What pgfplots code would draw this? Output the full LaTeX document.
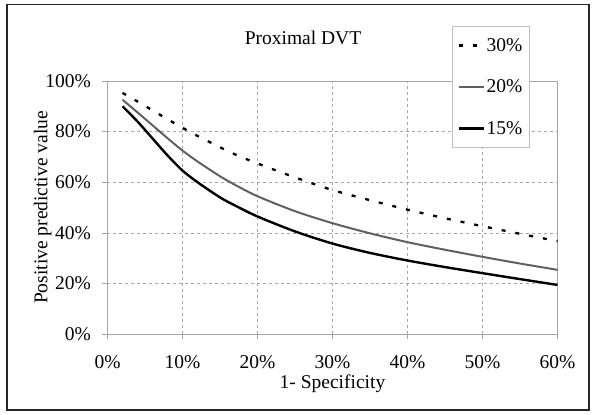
\documentclass[border=0pt]{standalone}
\usepackage{fontspec}
\setmainfont{Liberation Serif}
\usepackage{pgfplots}
\pgfplotsset{compat=1.18}
\definecolor{midgray}{HTML}{606060}
\begin{document}
\begin{tikzpicture}
\useasboundingbox (-107.5bp,-81bp) rectangle (492.5bp,334bp);
\draw[line width=1.5bp, black!85] (-100.5bp,-76bp) rectangle (481.5bp,329.5bp);
\begin{axis}[
  at={(0,0)}, anchor=south west,
  scale only axis, width=450bp, height=253bp,
  xmin=0, xmax=60, ymin=0, ymax=100,
  xtick={0,10,...,60}, ytick={0,20,...,100},
  xticklabel={\pgfmathprintnumber{\tick}\%},
  yticklabel={\pgfmathprintnumber{\tick}\%},
  /pgf/number format/assume math mode=true,
  grid=major,
  major grid style={dashed, gray!70, line width=0.5bp},
  axis line style={gray!70, line width=0.6bp},
  tick style={gray!70, line width=0.6bp},
  tick align=outside, major tick length=5bp,
  xtick pos=bottom, ytick pos=left,
  ticklabel style={font=\fontsize{19.5bp}{22bp}\selectfont},
  xticklabel style={anchor=base, yshift=-29bp},
  yticklabel style={anchor=east, xshift=-8bp},
  xlabel={1- Specificity},
  ylabel={Positive predictive value},
  every axis x label/.style={at={(axis description cs:0.5,-0.198)}, anchor=center, font=\fontsize{19.5bp}{22bp}\selectfont},
  every axis y label/.style={at={(axis description cs:-0.144,0.5)}, rotate=90, anchor=center, font=\fontsize{19.5bp}{22bp}\selectfont},
  title={Proximal DVT},
  title style={at={(axis description cs:0.4344,1.146)}, anchor=center, font=\fontsize{19.5bp}{22bp}\selectfont},
  legend style={at={(axis description cs:0.7656,1.2174)}, anchor=north west,
    draw=gray!50, line width=0.6bp, fill=white, inner xsep=5bp, inner ysep=10bp,
    row sep=23bp, font=\fontsize{19.5bp}{22bp}\selectfont, cells={anchor=west}},
  legend image code/.code={\draw[#1] (0bp,0bp) -- (25bp,0bp);},
]
\addplot[black, line width=2.3bp, dash pattern=on 4bp off 10bp, smooth] coordinates {
(2,95.3) (4,91.9) (6,88.4) (8,84.9) (10,81.5) (12,78.3) (15,73.8) (17,71.0) (20,67.4) (25,61.9) (30,56.9) (35,52.9) (40,49.15) (45,45.75) (50,42.6) (55,39.6) (60,36.7)};
\addlegendentry{30\%}
\addplot[midgray, line width=2bp, smooth] coordinates {
(2,92.6) (4,87.6) (6,82.5) (8,77.4) (10,72.5) (12,68.2) (15,62.35) (17,58.95) (20,54.45) (25,48.55) (30,43.8) (35,39.8) (40,36.3) (45,33.3) (50,30.5) (55,27.85) (60,25.35)};
\addlegendentry{20\%}
\addplot[black, line width=2.4bp, smooth] coordinates {
(2,90.0) (4,84.0) (6,77.3) (8,70.6) (10,64.6) (12,60.0) (15,54.0) (17,50.8) (20,46.45) (25,40.55) (30,35.75) (35,32.05) (40,29.05) (45,26.45) (50,24.05) (55,21.7) (60,19.4)};
\addlegendentry{15\%}
\end{axis}
\end{tikzpicture}
\end{document}
